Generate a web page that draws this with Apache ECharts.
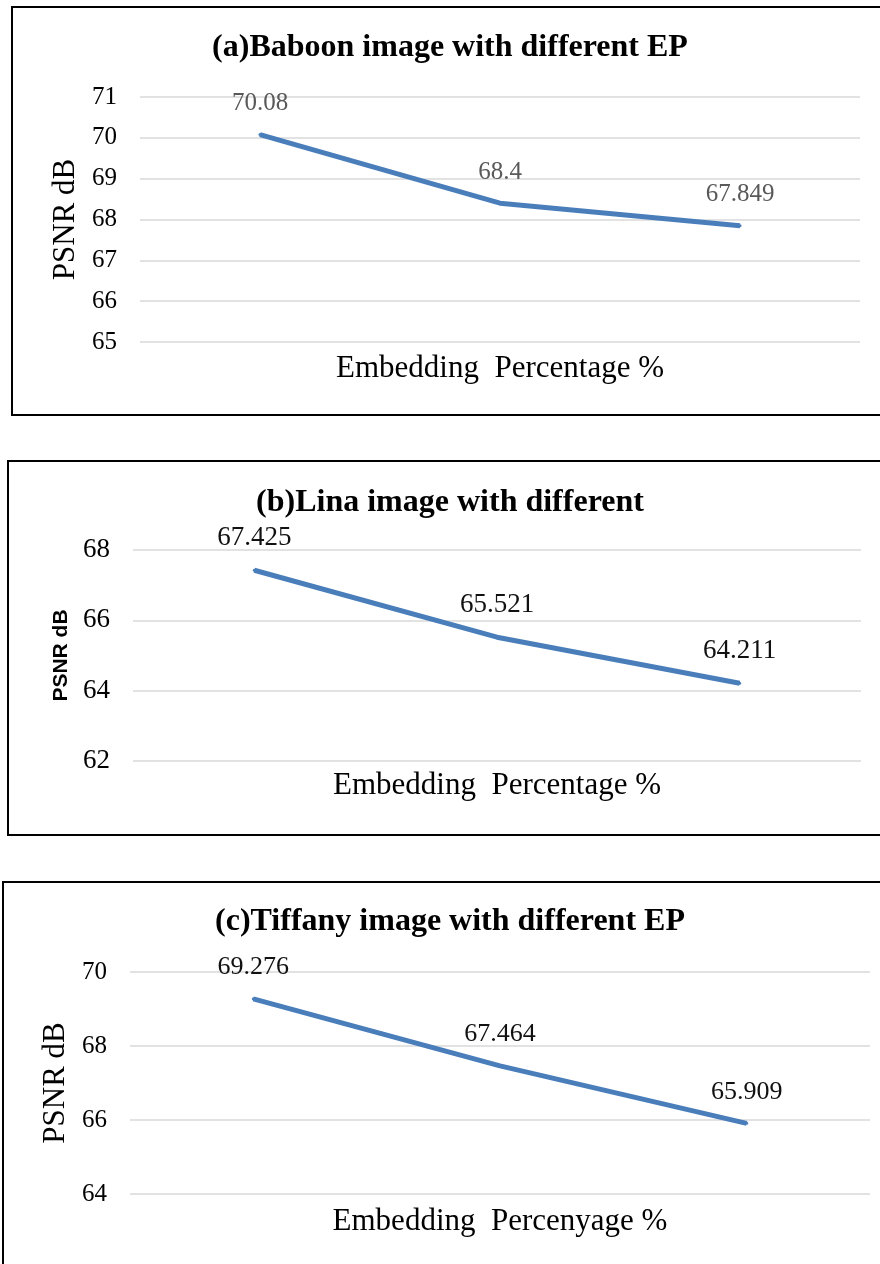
<!DOCTYPE html>
<html>
<head>
<meta charset="utf-8">
<script src="https://cdn.jsdelivr.net/npm/echarts@6/dist/echarts.min.js"></script>
<style>
html,body{margin:0;padding:0;background:#fff;}
#main{width:880px;height:1264px;}
</style>
</head>
<body>
<div id="main"></div>
<script>
// ---- data ----
const categories = ['EP1', 'EP2', 'EP3'];
const baboonPSNR = [70.08, 68.4, 67.849];
const linaPSNR = [67.425, 65.521, 64.211];
const tiffanyPSNR = [69.276, 67.464, 65.909];
const titles = [
  '(a)Baboon image with different EP',
  '(b)Lina image with different',
  '(c)Tiffany image with different EP'
];
const xTitles = ['Embedding  Percentage %', 'Embedding  Percentage %', 'Embedding  Percenyage %'];
const yTitle = 'PSNR dB';
const yRanges = [[65, 71, 1], [62, 68, 2], [64, 70, 2]];

const serif = '"Liberation Serif", "Times New Roman", serif';
const sans = '"Liberation Sans", Arial, sans-serif';
const lineColor = '#4a7ebb';

const grids = [
  { left: 140, right: 20, top: 97, height: 245 },
  { left: 133, right: 19, top: 550, height: 211 },
  { left: 130, right: 10, top: 972, height: 222 }
];
const titleTops = [32, 487, 906];
const labelColors = ['#595959', '#111', '#111'];
const tickSizes = [25, 27, 25];
const labelSizes = [25, 27, 26];
const nameGapsY = [58, 56, 58];
const nameGapsX = [11, 9, 12];
const seriesData = [baboonPSNR, linaPSNR, tiffanyPSNR];

const chart = echarts.init(document.getElementById('main'), null, { renderer: 'canvas' });

const option = {
  backgroundColor: '#fff',
  animation: false,
  title: titles.map((t, i) => ({
    text: t, left: 450, top: titleTops[i], textAlign: 'center', padding: 0,
    textStyle: { fontFamily: serif, fontWeight: 'bold', fontSize: 32, color: '#000' }
  })),
  grid: grids,
  xAxis: grids.map((g, i) => ({
    type: 'category', gridIndex: i, data: categories, boundaryGap: true,
    axisLine: { show: false }, axisTick: { show: false }, axisLabel: { show: false },
    name: xTitles[i], nameLocation: 'middle', nameGap: nameGapsX[i],
    nameTextStyle: { fontFamily: serif, fontSize: 31, color: '#000', verticalAlign: 'top' }
  })),
  yAxis: grids.map((g, i) => ({
    type: 'value', gridIndex: i, min: yRanges[i][0], max: yRanges[i][1], interval: yRanges[i][2],
    axisLine: { show: false }, axisTick: { show: false },
    axisLabel: { fontFamily: serif, fontSize: tickSizes[i], color: '#000', margin: 23 },
    splitLine: { lineStyle: { color: '#d9d9d9', width: 1.5 } },
    name: yTitle, nameLocation: 'middle', nameGap: nameGapsY[i], nameRotate: 90,
    nameTextStyle: i === 1
      ? { fontFamily: sans, fontWeight: 'bold', fontSize: 21, color: '#000' }
      : { fontFamily: serif, fontSize: 31, color: '#000' }
  })),
  series: seriesData.map((d, i) => ({
    type: 'line', xAxisIndex: i, yAxisIndex: i, data: d,
    symbol: 'circle', symbolSize: 3, itemStyle: { color: lineColor },
    lineStyle: { color: lineColor, width: 5 },
    label: {
      show: true, position: 'top', distance: 17,
      fontFamily: serif, fontSize: labelSizes[i], color: labelColors[i]
    }
  })),
  graphic: [
    { type: 'rect', shape: { x: 12, y: 7, width: 900, height: 408 }, style: { fill: null, stroke: '#000', lineWidth: 2 }, silent: true },
    { type: 'rect', shape: { x: 8, y: 461, width: 900, height: 374 }, style: { fill: null, stroke: '#000', lineWidth: 2 }, silent: true },
    { type: 'rect', shape: { x: 3, y: 882, width: 900, height: 500 }, style: { fill: null, stroke: '#000', lineWidth: 2 }, silent: true }
  ]
};
chart.setOption(option);
</script>
</body>
</html>
